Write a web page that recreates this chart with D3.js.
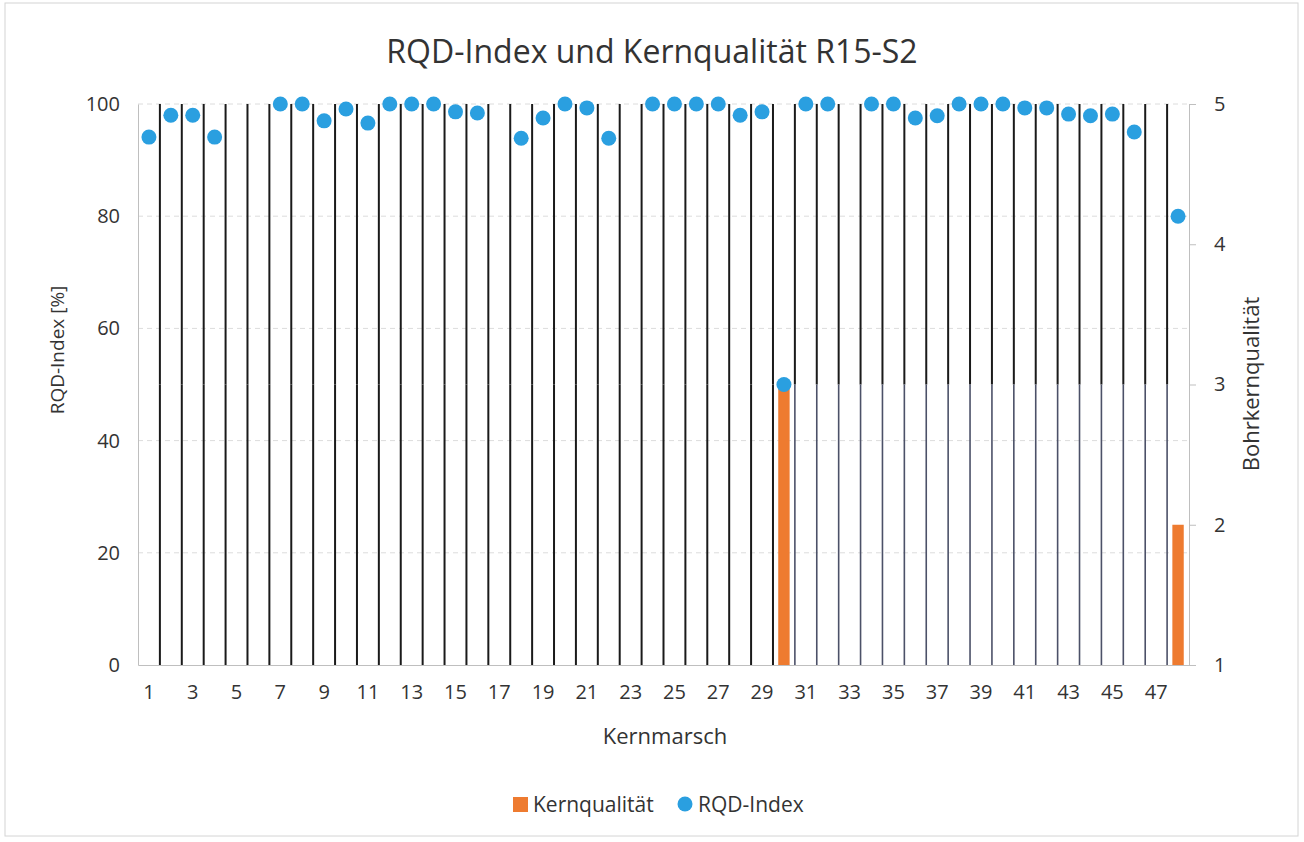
<!DOCTYPE html>
<html>
<head>
<meta charset="utf-8">
<script src="https://cdn.jsdelivr.net/npm/d3@7"></script>
<style>
body { margin: 0; background: #fff; }
text { font-family: "Open Sans", sans-serif; fill: #333; }
</style>
</head>
<body>
<script>
// Kernmarsch 1..48
var categories = [1,2,3,4,5,6,7,8,9,10,11,12,13,14,15,16,17,18,19,20,21,22,23,24,
                  25,26,27,28,29,30,31,32,33,34,35,36,37,38,39,40,41,42,43,44,45,46,47,48];

// RQD-Index [%]
var rqd = [94.1, 98, 98, 94.1, null, null, 100, 100, 97, 99.1, 96.6, 100, 100, 100, 98.6, 98.4,
           null, 93.9, 97.5, 100, 99.3, 93.9, null, 100, 100, 100, 100, 98, 98.6, 50, 100, 100,
           null, 100, 100, 97.5, 97.9, 100, 100, 100, 99.3, 99.3, 98.2, 97.9, 98.2, 95, null, 80];

// Kernqualität (Bohrkernqualität)
var kern = [null, null, null, null, null, null, null, null, null, null, null, null, null, null, null, null,
            null, null, null, null, null, null, null, null, null, null, null, null, null, 3, null, null,
            null, null, null, null, null, null, null, null, null, null, null, null, null, null, null, 2];

var leftTicks = [0, 20, 40, 60, 80, 100];
var rightTicks = [1, 2, 3, 4, 5];

//Width and height
var w = 1304;
var h = 842;
var plotLeft = 138, plotRight = 1189, plotTop = 104, plotBottom = 665;

var svg = d3.select("body")
            .append("svg")
            .attr("width", w)
            .attr("height", h);

// chart border
svg.append("rect")
    .attr("x", 5).attr("y", 3)
    .attr("width", 1293).attr("height", 833)
    .attr("fill", "none")
    .attr("stroke", "#d4d4d4");

//scales
var xScale = d3.scaleBand()
            .domain(categories)
            .range([plotLeft, plotRight])
            .paddingInner(0);

var yScale = d3.scaleLinear()
            .domain([0, 100])
            .range([plotBottom, plotTop]);

var y2Scale = d3.scaleLinear()
            .domain([1, 5])
            .range([plotBottom, plotTop]);

//gridlines
svg.append("g")
    .selectAll("line")
    .data(leftTicks.slice(1))
    .enter().append("line")
    .attr("x1", plotLeft).attr("x2", plotRight)
    .attr("y1", function(d){ return yScale(d); })
    .attr("y2", function(d){ return yScale(d); })
    .attr("stroke", "#dcdcdc")
    .attr("stroke-dasharray", "5,4");

//bars
svg.append("g")
    .selectAll("rect")
    .data(categories.map(function(c, i){ return [c, kern[i]]; }).filter(function(d){ return d[1] != null; }))
    .enter().append("rect")
    .attr("x", function(d){ return xScale(d[0]) + xScale.bandwidth() * 0.24; })
    .attr("width", xScale.bandwidth() * 0.52)
    .attr("y", function(d){ return y2Scale(d[1]); })
    .attr("height", function(d){ return plotBottom - y2Scale(d[1]); })
    .attr("fill", "#ee7b30");

//vertical lines between Kernmärsche
var bounds = categories.slice(0, categories.length - 1);
var vl = svg.append("g");
bounds.forEach(function(c, i){
    var x = xScale(c) + xScale.bandwidth();
    var faded = i >= 29;
    vl.append("line")
        .attr("x1", x).attr("x2", x)
        .attr("y1", yScale(100)).attr("y2", yScale(50))
        .attr("stroke", "#1a1a1a").attr("stroke-width", 2);
    vl.append("line")
        .attr("x1", x).attr("x2", x)
        .attr("y1", yScale(50)).attr("y2", yScale(0))
        .attr("stroke", faded ? "#4c5168" : "#1a1a1a")
        .attr("stroke-width", faded ? 1.6 : 2);
});

//axes
var yAxis = svg.append("g")
    .attr("transform", "translate(" + plotLeft + ",0)")
    .call(d3.axisLeft(yScale).tickValues(leftTicks).tickSize(0).tickPadding(18));

var y2Axis = svg.append("g")
    .attr("transform", "translate(" + plotRight + ",0)")
    .call(d3.axisRight(y2Scale).tickValues(rightTicks).tickFormat(d3.format("d"))
        .tickSize(7).tickPadding(18));

var xAxis = svg.append("g")
    .attr("transform", "translate(0," + plotBottom + ")")
    .call(d3.axisBottom(xScale)
        .tickValues(categories.filter(function(c){ return c % 2 == 1; }))
        .tickSize(0).tickPadding(20));

[yAxis, y2Axis, xAxis].forEach(function(a){
    a.select(".domain").attr("stroke", "#bfbfbf");
    a.selectAll(".tick line").attr("stroke", "#bfbfbf");
    a.selectAll("text")
        .style("font-family", "'Open Sans', sans-serif")
        .style("font-size", "20px")
        .attr("fill", "#333");
});

//RQD points
svg.append("g")
    .selectAll("circle")
    .data(categories.map(function(c, i){ return [c, rqd[i]]; }).filter(function(d){ return d[1] != null; }))
    .enter().append("circle")
    .attr("cx", function(d){ return xScale(d[0]) + xScale.bandwidth() / 2; })
    .attr("cy", function(d){ return yScale(d[1]); })
    .attr("r", 7.5)
    .attr("fill", "#2a9fe0");

//title
svg.append("text")
    .attr("x", 652).attr("y", 63)
    .attr("text-anchor", "middle")
    .style("font-size", "32px")
    .text("RQD-Index und Kernqualität R15-S2");

//axis titles
svg.append("text")
    .attr("transform", "translate(64,350) rotate(-90)")
    .attr("text-anchor", "middle")
    .style("font-size", "19px")
    .text("RQD-Index [%]");

svg.append("text")
    .attr("transform", "translate(1259,384) rotate(-90)")
    .attr("text-anchor", "middle")
    .style("font-size", "22px")
    .text("Bohrkernqualität");

svg.append("text")
    .attr("x", 665).attr("y", 744)
    .attr("text-anchor", "middle")
    .style("font-size", "22px")
    .text("Kernmarsch");

//legend
var lg = svg.append("g");
lg.append("rect")
    .attr("x", 513).attr("y", 797).attr("width", 15).attr("height", 15)
    .attr("fill", "#ee7b30");
lg.append("text")
    .attr("x", 533).attr("y", 812)
    .style("font-size", "21px")
    .text("Kernqualität");
lg.append("circle")
    .attr("cx", 685).attr("cy", 804).attr("r", 7.5)
    .attr("fill", "#2a9fe0");
lg.append("text")
    .attr("x", 698).attr("y", 812)
    .style("font-size", "21px")
    .text("RQD-Index");
</script>
</body>
</html>
